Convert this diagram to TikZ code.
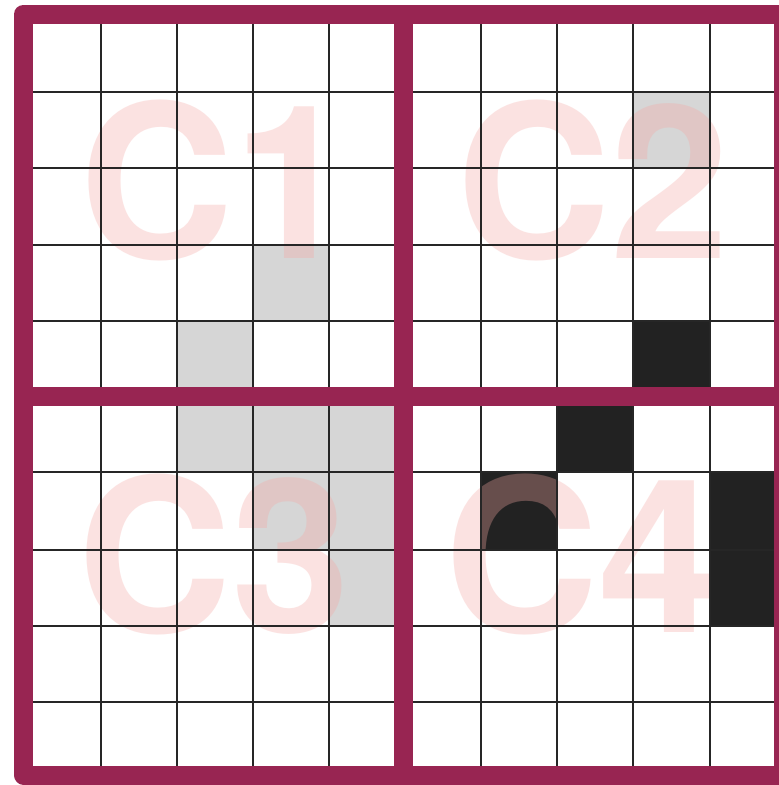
\documentclass[tikz,border=0pt]{standalone}
\usepackage{fontspec}
\setmainfont{TeX Gyre Heros}
\definecolor{frame}{RGB}{152,37,82}
\definecolor{lightcell}{RGB}{214,214,214}
\definecolor{darkcell}{RGB}{34,34,34}
\definecolor{labelpink}{RGB}{245,168,164}
\begin{document}
\begin{tikzpicture}[x=1pt,y=-1pt,
  graycell/.style={fill=lightcell},
  blackcell/.style={fill=darkcell},
  gridline/.style={draw=black!85,line width=1.7pt},
  framestyle/.style={draw=frame,line width=19pt,line join=round},
  quadlabel/.style={text=labelpink,text opacity=0.33,inner sep=0pt,anchor=base,
    font=\fontsize{214}{214}\selectfont\bfseries}]
\useasboundingbox (0,0) rectangle (779,785);
\fill[white] (0,0) rectangle (779,785);
% shaded cells
\fill[graycell] (253,245) rectangle (329,321);
\fill[graycell] (177,321) rectangle (253,396);
\fill[graycell] (633,92) rectangle (710,168);
\fill[graycell] (177,396) rectangle (403,472);
\fill[graycell] (253,472) rectangle (403,550);
\fill[graycell] (329,550) rectangle (403,626);
\fill[blackcell] (633,321) rectangle (710,396);
\fill[blackcell] (557,396) rectangle (633,472);
\fill[blackcell] (481,472) rectangle (557,550);
\fill[blackcell] (710,472) rectangle (783,626);
% labels
\node[quadlabel] (c1) at (216,258) {C1};
\node[quadlabel] (c2) at (593,258) {C2};
\node[quadlabel] (c3) at (214,632) {C3};
\node[quadlabel] (c4) at (581,632) {C4};
% thin grid lines
\foreach \gx in {101,177,253,329,481,557,633,710}
  \draw[gridline] (\gx,14) -- (\gx,775);
\foreach \gy in {92,168,245,321,472,550,626,702}
  \draw[gridline] (23.5,\gy) -- (783,\gy);
% maroon frame and dividers
\draw[framestyle] (23.5,14) rectangle (783,775);
\draw[framestyle] (403,14) -- (403,775);
\draw[framestyle] (23.5,396) -- (783,396);
\end{tikzpicture}
\end{document}
